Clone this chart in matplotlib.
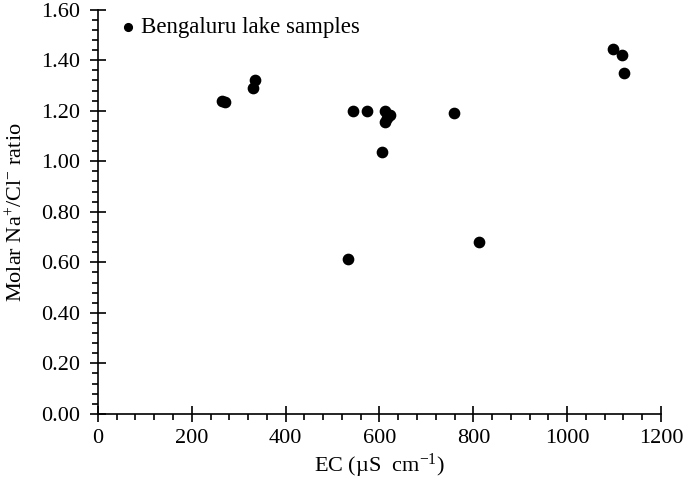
import matplotlib
matplotlib.use("Agg")
import matplotlib.pyplot as plt
from matplotlib.ticker import MultipleLocator, FormatStrFormatter

plt.rcParams['font.family'] = ['Liberation Serif', 'DejaVu Serif']
plt.rcParams['mathtext.fontset'] = 'custom'
plt.rcParams['mathtext.rm'] = 'Liberation Serif'
plt.rcParams['mathtext.it'] = 'Liberation Serif:italic'
plt.rcParams['mathtext.bf'] = 'Liberation Serif:bold'

# EC (uS/cm) and molar Na+/Cl- ratio
ec = [265, 270, 330, 335, 533, 544, 574, 606, 612, 612, 617, 623, 759, 813, 1098, 1117, 1122]
ratio = [1.24, 1.235, 1.29, 1.32, 0.615, 1.20, 1.20, 1.035, 1.20, 1.155, 1.17, 1.185, 1.19, 0.68, 1.445, 1.42, 1.35]

fig = plt.figure(figsize=(6.85, 4.88), dpi=100)
ax = fig.add_axes([0.143, 0.152, 0.822, 0.828])

ax.scatter(ec, ratio, s=55, color='black', zorder=3, label='Bengaluru lake samples')

ax.set_xlim(0, 1200)
ax.set_ylim(0, 1.6)
ax.xaxis.set_major_locator(MultipleLocator(200))
ax.xaxis.set_minor_locator(MultipleLocator(40))
ax.yaxis.set_major_locator(MultipleLocator(0.2))
ax.yaxis.set_minor_locator(MultipleLocator(0.04))
ax.yaxis.set_major_formatter(FormatStrFormatter('%.2f'))

for s in ['top', 'right']:
    ax.spines[s].set_visible(False)
ax.spines['left'].set_linewidth(1.2)
ax.spines['bottom'].set_linewidth(1.2)

ax.tick_params(which='major', direction='inout', length=11.5, width=1.2, labelsize=16)
ax.tick_params(axis='y', which='major', pad=7)
ax.tick_params(axis='x', which='major', pad=5)
ax.tick_params(which='minor', direction='out', length=4.5, width=1.2)

ax.set_xlabel('EC (µS  cm$^{-1}$)', fontsize=16, labelpad=3)
ax.set_ylabel('Molar Na$^{+}$/Cl$^{-}$ ratio', fontsize=16, labelpad=10)

ax.legend(loc='upper left', bbox_to_anchor=(0.024, 0.993), frameon=False, fontsize=16.5,
          handletextpad=0.1, borderaxespad=0.0, borderpad=0.2, scatterpoints=1,
          handlelength=1.0, markerscale=0.75)

fig.savefig('out.png', dpi=100)
